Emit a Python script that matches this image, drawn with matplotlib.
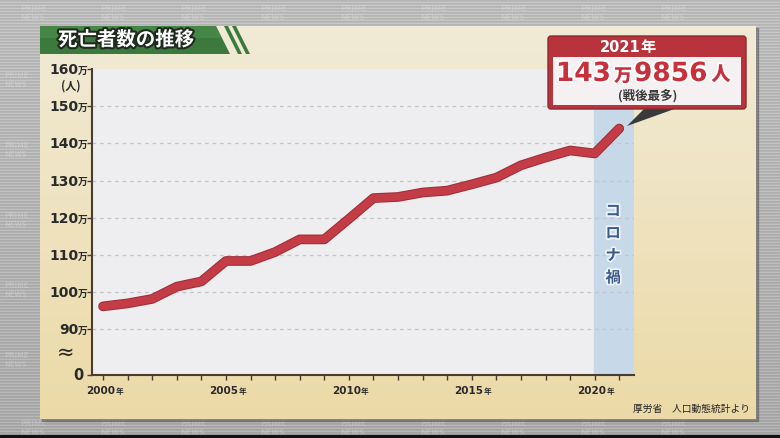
import numpy as np
import matplotlib
matplotlib.use("Agg")
import matplotlib.pyplot as plt
import matplotlib.patheffects as pe
from matplotlib.patches import Polygon, Rectangle, FancyBboxPatch

plt.rcParams['font.family'] = ['Noto Sans CJK JP', 'DejaVu Sans']
NUM = 'DejaVu Sans'

# deaths per year, in units of 万人
years = list(range(2000, 2022))
deaths = [96.2, 97.0, 98.2, 101.5, 102.9, 108.4, 108.4, 110.8, 114.2, 114.2,
          119.7, 125.3, 125.6, 126.8, 127.3, 129.0, 130.8, 134.1, 136.2, 138.1,
          137.3, 144.0]
ytick_vals = [90, 100, 110, 120, 130, 140, 150, 160]
xlabel_years = [2000, 2005, 2010, 2015, 2020]
title = "死亡者数の推移"
source = "厚労省　人口動態統計より"
band_label = "コロナ禍"

W, H = 780, 439
fig = plt.figure(figsize=(7.8, 4.39), dpi=100)

# background layer in pixel coords
bg = fig.add_axes([0, 0, 1, 1])
bg.set_xlim(0, W)
bg.set_ylim(H, 0)
bg.axis('off')

stripes = np.zeros((H, 1))
stripes[::3] = 0.06
stripes[1::3] = -0.02
grad = np.linspace(0.73, 0.66, H)[:, None] + stripes
bg.imshow(np.dstack([grad, grad, grad]).clip(0, 1), extent=(0, W, H, 0), aspect='auto', zorder=0)
# faint watermark logos, only where the panel does not cover them
for xx in range(20, W - 40, 80):
    for yy in (13, 428):
        bg.text(xx, yy, "PRIME\nNEWS", fontsize=6, color='white', alpha=0.2,
                fontweight='bold', ha='left', va='center', zorder=0.5, linespacing=0.9)
for yy in range(80, 400, 70):
    bg.text(4, yy, "PRIME\nNEWS", fontsize=5.5, color='white', alpha=0.2,
            fontweight='bold', ha='left', va='center', zorder=0.5, linespacing=0.9)
bg.add_patch(Rectangle((0, 436), W, 3, color='#111111', zorder=1))

# cream panel
top_c = np.array([0.945, 0.92, 0.84])
bot_c = np.array([0.925, 0.855, 0.655])
t = np.linspace(0, 1, 100)[:, None, None]
panel = top_c * (1 - t) + bot_c * t
bg.add_patch(Rectangle((42, 29), 716, 393, color='#555555', alpha=0.5, zorder=1))
bg.imshow(panel, extent=(40, 756, 420, 27), aspect='auto', zorder=2)

# green title bar
bg.add_patch(Polygon([(40, 27), (216, 27), (230, 55), (40, 55)], closed=True,
                     facecolor='#3b7a3c', edgecolor='none', zorder=3))
bg.add_patch(Polygon([(40, 27), (216, 27), (222, 39), (40, 39)], closed=True,
                     facecolor='#4f9150', edgecolor='none', zorder=3, alpha=0.6))
for dx in (8, 16):
    bg.add_patch(Polygon([(216 + dx, 27), (220 + dx, 27), (234 + dx, 55), (230 + dx, 55)],
                         closed=True, facecolor='#3b7a3c', edgecolor='none', zorder=3))
bg.text(58, 41, title, fontsize=14, fontweight='bold', color='white', ha='left', va='center',
        zorder=4, path_effects=[pe.withStroke(linewidth=3, foreground='#1e2a1e')])

# main chart
ax = fig.add_axes([92 / W, 1 - 376 / H, 542 / W, 306 / H])
ax.set_zorder(5)
ax.set_facecolor('#eeeef1')
ax.set_xlim(1999.55, 2021.6)
ax.set_ylim(77.75, 160)
ax.axvspan(2019.97, 2021.6, color='#c7d9e8', zorder=0)
for v in ytick_vals[:-1]:
    ax.axhline(v, color='#c4c4c8', lw=0.9, ls=(0, (3, 3)), zorder=1)

ax.plot(years, deaths, color='#c33c46', lw=5.5, solid_capstyle='round', solid_joinstyle='round',
        zorder=3, path_effects=[pe.Stroke(linewidth=7, foreground='#a02e38'), pe.Normal()])

for s in ['top', 'right']:
    ax.spines[s].set_visible(False)
for s in ['left', 'bottom']:
    ax.spines[s].set_color('#4a3c30')
    ax.spines[s].set_linewidth(1.5)
ax.set_yticks([77.75] + ytick_vals)
ax.set_yticklabels([])
ax.set_xticks(years)
ax.set_xticklabels([])
ax.tick_params(axis='both', direction='out', length=3.5, width=1, color='#4a3c30')

ytr = ax.get_yaxis_transform()
for v in ytick_vals:
    ax.annotate(str(v), xy=(0, v), xycoords=ytr, xytext=(-9.5, 0), textcoords='offset points',
                ha='right', va='center', fontsize=10, fontweight='bold', color='#2a2a2a',
                family=NUM, annotation_clip=False)
    ax.annotate("万", xy=(0, v), xycoords=ytr, xytext=(-3, -0.5), textcoords='offset points',
                ha='right', va='center', fontsize=7, fontweight='bold', color='#2a2a2a',
                annotation_clip=False)
ax.annotate("0", xy=(0, 77.75), xycoords=ytr, xytext=(-6, 0), textcoords='offset points',
            ha='right', va='center', fontsize=10.5, fontweight='bold', color='#2a2a2a',
            family=NUM, annotation_clip=False)
ax.annotate("(人)", xy=(0, 160), xycoords=ytr, xytext=(-15, -11.5), textcoords='offset points',
            ha='center', va='center', fontsize=8, fontweight='bold', color='#2a2a2a',
            annotation_clip=False)
ax.annotate("≈", xy=(0, 84), xycoords=ytr, xytext=(-19, 0), textcoords='offset points',
            ha='center', va='center', fontsize=15, color='#2a2a2a', family='DejaVu Sans',
            annotation_clip=False)

xtr = ax.get_xaxis_transform()
for yr in xlabel_years:
    ax.annotate(str(yr), xy=(yr, 0), xycoords=xtr, xytext=(8.5, -11), textcoords='offset points',
                ha='right', va='center', fontsize=7.5, fontweight='bold', color='#2a2a2a',
                family=NUM, annotation_clip=False)
    ax.annotate("年", xy=(yr, 0), xycoords=xtr, xytext=(8.8, -11.5), textcoords='offset points',
                ha='left', va='center', fontsize=5.5, fontweight='bold', color='#2a2a2a',
                annotation_clip=False)

# vertical label in the covid band, one glyph per row
for i, ch in enumerate(band_label):
    ax.annotate(ch, xy=(2020.75, 160), xytext=(0, -102 - 16 * i), textcoords='offset points',
                fontsize=11, fontweight='bold', color='#3d5c8c', ha='center', va='center',
                zorder=4, path_effects=[pe.withStroke(linewidth=2.5, foreground='#eef3f8')])

# callout box
ov = fig.add_axes([0, 0, 1, 1])
ov.set_xlim(0, W)
ov.set_ylim(H, 0)
ov.axis('off')
ov.set_zorder(6)
ov.patch.set_alpha(0)
ov.add_patch(Polygon([(627, 127), (646, 108), (680, 108)], closed=True,
                     facecolor='#3a3a3a', edgecolor='none'))
ov.add_patch(FancyBboxPatch((548, 37), 198, 73, boxstyle="round,pad=0,rounding_size=3",
                            facecolor='#b8333b', edgecolor='#8c2a30', lw=1))
ov.add_patch(Rectangle((553, 58), 188, 48, facecolor='#f5f1f3', edgecolor='none'))
ov.text(641, 47.5, "2021", fontsize=10.5, fontweight='bold', color='white', ha='right',
        va='center', family=NUM)
ov.text(640, 47, "年", fontsize=11, fontweight='bold', color='white', ha='left', va='center')
red_fx = [pe.withStroke(linewidth=2.5, foreground='white')]
ov.text(611, 75, "143", fontsize=19, fontweight='heavy', color='#c8303c', ha='right', va='center',
        family=NUM, path_effects=red_fx)
ov.text(623, 77, "万", fontsize=13, fontweight='heavy', color='#c8303c', ha='center', va='center',
        path_effects=red_fx)
ov.text(634, 75, "9856", fontsize=19, fontweight='heavy', color='#c8303c', ha='left', va='center',
        family=NUM, path_effects=red_fx)
ov.text(721, 76, "人", fontsize=14, fontweight='heavy', color='#c8303c', ha='center', va='center',
        path_effects=red_fx)
ov.text(648, 96, "(戦後最多)", fontsize=9, fontweight='bold', color='#3a3a3a', ha='center', va='center')

ov.text(750, 409, source, fontsize=7, color='#222222', ha='right', va='center')

fig.savefig("out.png", dpi=100)
